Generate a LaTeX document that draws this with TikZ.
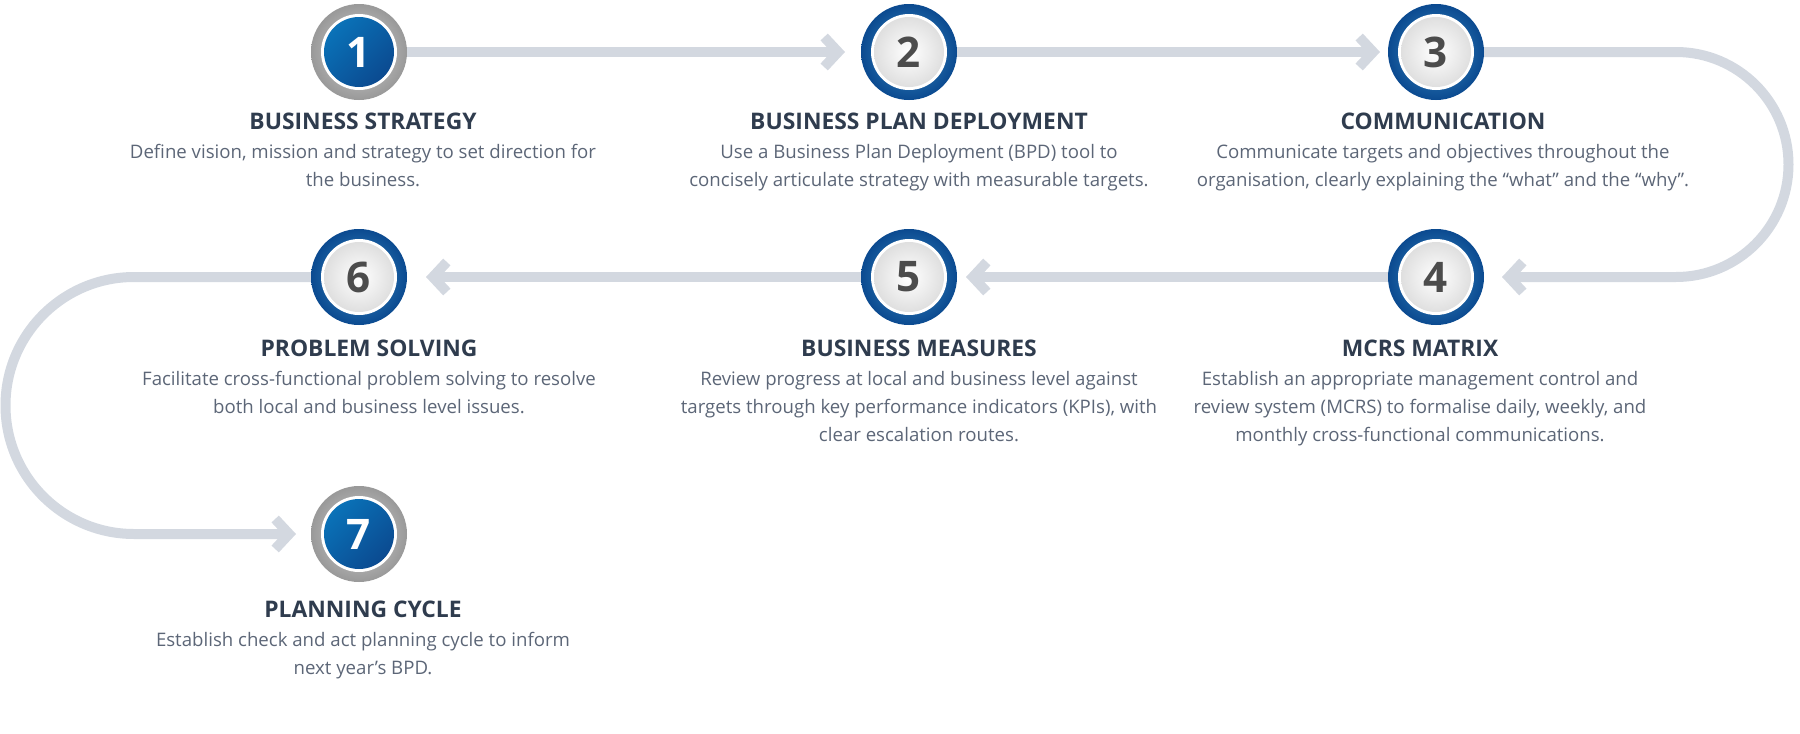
\documentclass[tikz,border=0pt]{standalone}
\usepackage{fontspec}
\setmainfont{Open Sans}
\usetikzlibrary{arrows.meta}
\definecolor{track}{HTML}{D3D8E0}
\definecolor{ttl}{HTML}{2F3C4E}
\definecolor{bdy}{HTML}{5C6677}
\definecolor{blu}{HTML}{0A72B8}
\definecolor{dblu}{HTML}{0B4A90}
\begin{document}
\begin{tikzpicture}[x=0.02cm,y=-0.02cm,
  trk/.style={draw=track,line width=0.2cm,line cap=butt},
  tip/.style={-{Straight Barb[length=0.28cm,width=0.6cm,line width=0.2cm]}},
  ttl/.style={font=\fontsize{13}{16}\selectfont\bfseries,text=ttl},
  bdy/.style={font=\fontsize{10.6}{16}\selectfont,text=bdy,align=center},
]
\useasboundingbox (0,0) rectangle (1800,734);
\newcommand\darkstep[3]{%
  \shade[inner color=gray!35,outer color=gray!80] (#1) circle (48);
  \fill[white] (#1) circle (38);
  \shade[left color=blu,right color=dblu,shading angle=45] (#1) circle (35);
  \node[font=\fontsize{24}{24}\selectfont\bfseries,text=white] (#3) at (#1) {#2};}
\newcommand\lightstep[3]{%
  \shade[inner color=blu!80,outer color=dblu] (#1) circle (48);
  \fill[white] (#1) circle (38);
  \shade[inner color=white,outer color=gray!25] (#1) circle (35);
  \node[font=\fontsize{24}{24}\selectfont\bfseries,text=gray!60!black] (#3) at (#1) {#2};}
\coordinate (p1) at (359,52); \coordinate (p2) at (909,52); \coordinate (p3) at (1436,52);
\coordinate (p4) at (1436,277); \coordinate (p5) at (909,277); \coordinate (p6) at (359,277);
\coordinate (p7) at (359,534);
\coordinate (e1) at (407,52); \coordinate (t2) at (845,52);
\coordinate (e2) at (957,52); \coordinate (t3) at (1380,52);
\coordinate (e3) at (1484,52); \coordinate (t4) at (1502,277);
\coordinate (e4) at (1388,277); \coordinate (t5) at (966,277);
\coordinate (e5) at (861,277); \coordinate (t6) at (426,277);
\coordinate (e6) at (311,277); \coordinate (t7) at (296,534);
\draw[trk,tip] (e1) -- (t2);
\draw[trk,tip] (e2) -- (t3);
\draw[trk,tip] (e3) -- (1676,52) arc[start angle=-90,end angle=90,radius=112.5] -- (t4);
\draw[trk,tip] (e4) -- (t5);
\draw[trk,tip] (e5) -- (t6);
\draw[trk,tip] (e6) -- (134,277) arc[start angle=270,end angle=90,radius=128.5] -- (t7);
\darkstep{p1}{1}{n1}
\lightstep{p2}{2}{n2}
\lightstep{p3}{3}{n3}
\lightstep{p4}{4}{n4}
\lightstep{p5}{5}{n5}
\lightstep{p6}{6}{n6}
\darkstep{p7}{7}{n7}
\node[ttl] (h1) at (363,121) {BUSINESS STRATEGY};
\node[bdy,anchor=north] (b1) at (363,138) {Define vision, mission and strategy to set direction for\\the business.};
\node[ttl] (h2) at (919,121) {BUSINESS PLAN DEPLOYMENT};
\node[bdy,anchor=north] (b2) at (919,138) {Use a Business Plan Deployment (BPD) tool to\\concisely articulate strategy with measurable targets.};
\node[ttl] (h3) at (1443,121) {COMMUNICATION};
\node[bdy,anchor=north] (b3) at (1443,138) {Communicate targets and objectives throughout the\\organisation, clearly explaining the “what” and the “why”.};
\node[ttl] (h4) at (1420,348) {MCRS MATRIX};
\node[bdy,anchor=north] (b4) at (1420,365) {Establish an appropriate management control and\\review system (MCRS) to formalise daily, weekly, and\\monthly cross-functional communications.};
\node[ttl] (h5) at (919,348) {BUSINESS MEASURES};
\node[bdy,anchor=north] (b5) at (919,365) {Review progress at local and business level against\\targets through key performance indicators (KPIs), with\\clear escalation routes.};
\node[ttl] (h6) at (369,348) {PROBLEM SOLVING};
\node[bdy,anchor=north] (b6) at (369,365) {Facilitate cross-functional problem solving to resolve\\both local and business level issues.};
\node[ttl] (h7) at (363,609) {PLANNING CYCLE};
\node[bdy,anchor=north] (b7) at (363,626) {Establish check and act planning cycle to inform\\next year’s BPD.};
\end{tikzpicture}
\end{document}
